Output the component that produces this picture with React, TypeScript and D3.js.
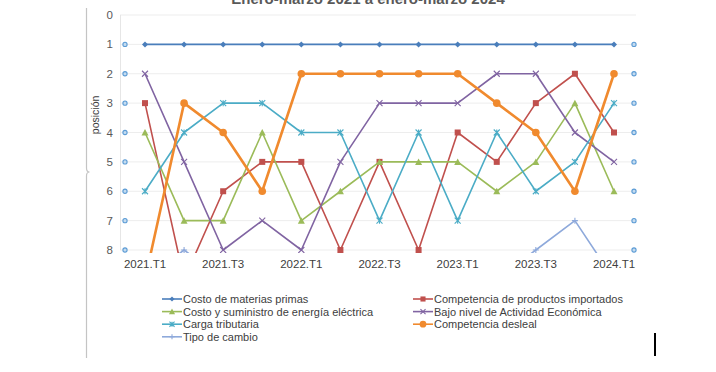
import React from 'react';
import * as d3 from 'd3';

const quarters = ['2021.T1','2021.T2','2021.T3','2021.T4','2022.T1','2022.T2','2022.T3','2022.T4','2023.T1','2023.T2','2023.T3','2023.T4','2024.T1'];
const tickLabels = ['2021.T1','2021.T3','2022.T1','2022.T3','2023.T1','2023.T3','2024.T1'];

const materias   = [1,1,1,1,1,1,1,1,1,1,1,1,1];
const importados = [3,9,6,5,5,8,5,8,4,5,3,2,4];
const energia    = [4,7,7,4,7,6,5,5,5,6,5,3,6];
const actividad  = [2,5,8,7,8,5,3,3,3,2,2,4,5];
const tributaria = [6,4,3,3,4,4,7,4,7,4,6,5,3];
const desleal    = [9,3,4,6,2,2,2,2,2,3,4,6,2];
const cambio     = [9,8,9,9,9,9,9,9,9,9,8,7,9];

const series = [
  { name: 'Costo de materias primas', values: materias, color: '#4a7ebb', marker: 'diamond', w: 1.6 },
  { name: 'Competencia de productos importados', values: importados, color: '#c0504d', marker: 'square', w: 1.6 },
  { name: 'Costo y suministro de energía eléctrica', values: energia, color: '#9bbb59', marker: 'triangle', w: 1.6 },
  { name: 'Bajo nivel de Actividad Económica', values: actividad, color: '#8064a2', marker: 'x', w: 1.6 },
  { name: 'Carga tributaria', values: tributaria, color: '#4bacc6', marker: 'star', w: 1.6 },
  { name: 'Competencia desleal', values: desleal, color: '#f08a2e', marker: 'circle', w: 2.6 },
  { name: 'Tipo de cambio', values: cambio, color: '#8ea9db', marker: 'plus', w: 1.6 },
];

const x = d3.scalePoint<string>().domain(quarters).range([145, 614]);
const y = d3.scaleLinear().domain([0, 8]).range([15, 250]);
const yTicks = d3.range(0, 9);

function Marker({ type, cx, cy, color, s = 1 }: { type: string; cx: number; cy: number; color: string; s?: number }) {
  const r = 3 * s;
  switch (type) {
    case 'diamond':
      return <path d={`M${cx},${cy - r}L${cx + r},${cy}L${cx},${cy + r}L${cx - r},${cy}Z`} fill={color} />;
    case 'square':
      return <rect x={cx - r} y={cy - r} width={2 * r} height={2 * r} fill={color} />;
    case 'triangle':
      return <path d={`M${cx},${cy - r - 0.5}L${cx + r + 0.5},${cy + r}L${cx - r - 0.5},${cy + r}Z`} fill={color} />;
    case 'x':
      return <path d={`M${cx - r},${cy - r}L${cx + r},${cy + r}M${cx + r},${cy - r}L${cx - r},${cy + r}`} stroke={color} strokeWidth={1.1} />;
    case 'star':
      return <path d={`M${cx - r},${cy - r}L${cx + r},${cy + r}M${cx + r},${cy - r}L${cx - r},${cy + r}M${cx},${cy - r}L${cx},${cy + r}`} stroke={color} strokeWidth={1.1} />;
    case 'circle':
      return <circle cx={cx} cy={cy} r={r + 0.8} fill={color} />;
    case 'plus':
      return <path d={`M${cx - r},${cy}L${cx + r},${cy}M${cx},${cy - r}L${cx},${cy + r}`} stroke={color} strokeWidth={1.1} />;
    default:
      return null;
  }
}

export default function App() {
  const line = d3.line<number>().x((_, i) => x(quarters[i]) as number).y(d => y(d));
  const font = '"Liberation Sans", Arial, sans-serif';
  return (
    <div style={{ position: 'absolute', left: 0, top: 0 }}>
      <svg width={716} height={372} style={{ display: 'block', background: '#fff' }} fontFamily={font}>
        <defs>
          <clipPath id="plot">
            <rect x={118} y={0} width={525} height={253} />
          </clipPath>
        </defs>
        {/* title, cut at top as in the source */}
        <text x={368} y={4} textAnchor="middle" fontSize={15} fontWeight="bold" fill="#595959">Enero-marzo 2021 a enero-marzo 2024</text>
        {/* frame bracket */}
        <path d="M86.5,8V168q0,4,3,4q-3,0,-3,4V358" fill="none" stroke="#c4c4c4" strokeWidth={1.2} />
        {yTicks.map(t => (
          <line key={t} x1={120} x2={636} y1={y(t)} y2={y(t)} stroke="#ededed" strokeWidth={1} />
        ))}
        <line x1={120.5} x2={120.5} y1={y(0)} y2={y(8)} stroke="#e6e6e6" />
        {yTicks.map(t => (
          <text key={t} x={113} y={y(t) + 4} textAnchor="end" fontSize={11.5} fill="#595959">{t}</text>
        ))}
        <text transform={`translate(99,${y(3.4)}) rotate(-90)`} textAnchor="middle" fontSize={10.5} fill="#404040">posición</text>
        {tickLabels.map(l => (
          <text key={l} x={x(l)} y={268} textAnchor="middle" fontSize={11.5} fill="#404040">{l}</text>
        ))}
        {yTicks.slice(1).map(t => (
          <g key={t}>
            <circle cx={125} cy={y(t)} r={2.1} fill="#c5dcf0" stroke="#5b9bd5" strokeWidth={1.1} />
            <circle cx={634} cy={y(t)} r={2.1} fill="#c5dcf0" stroke="#5b9bd5" strokeWidth={1.1} />
          </g>
        ))}
        <g clipPath="url(#plot)">
          {series.map(s => (
            <g key={s.name}>
              <path d={line(s.values) || ''} fill="none" stroke={s.color} strokeWidth={s.w} strokeLinejoin="round" />
              {s.values.map((v, i) => (
                <Marker key={i} type={s.marker} cx={x(quarters[i]) as number} cy={y(v)} color={s.color} />
              ))}
            </g>
          ))}
        </g>
        {series.map((s, k) => {
          const col = k === 6 ? 0 : k % 2;
          const row = Math.floor(k / 2);
          const lx = col === 0 ? 162 : 413;
          const ly = 299 + row * 12.6;
          return (
            <g key={s.name}>
              <line x1={lx} x2={lx + 20} y1={ly} y2={ly} stroke={s.color} strokeWidth={1.6} />
              <Marker type={s.marker} cx={lx + 10} cy={ly} color={s.color} s={0.85} />
              <text x={lx + 21} y={ly + 4} fontSize={11} fill="#404040">{s.name}</text>
            </g>
          );
        })}
        <line x1={655} x2={655} y1={333} y2={356} stroke="#000" strokeWidth={2} />
      </svg>
    </div>
  );
}
